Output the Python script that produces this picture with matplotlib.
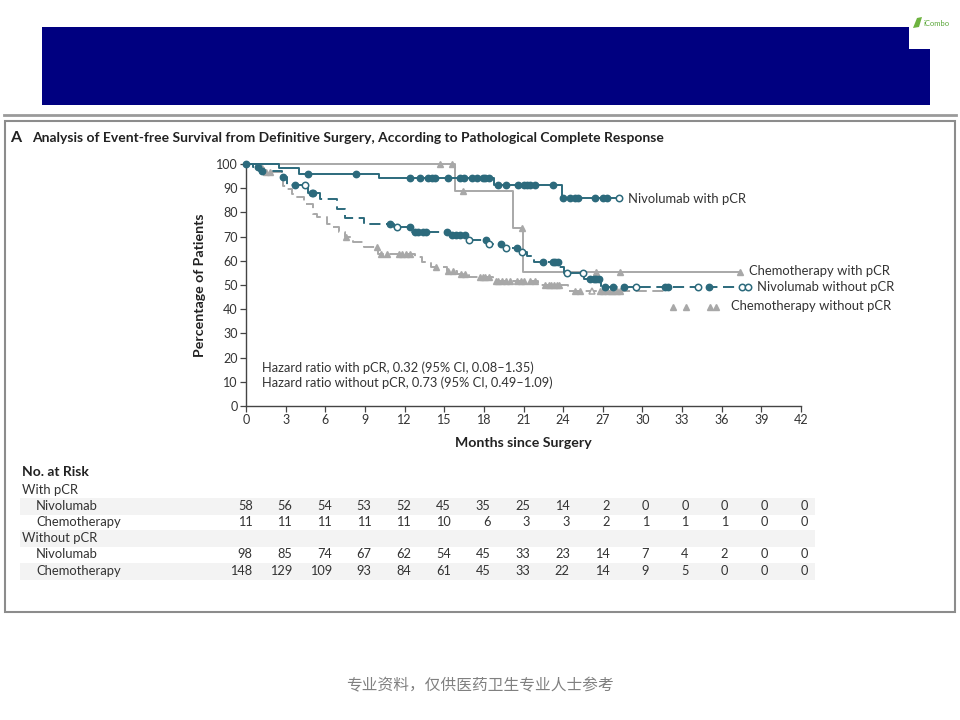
import numpy as np
import matplotlib
matplotlib.use("Agg")
import matplotlib.pyplot as plt
from matplotlib.patches import Rectangle, Polygon
import matplotlib.transforms as mtransforms

plt.rcParams['font.family'] = ['Lato', 'DejaVu Sans']
plt.rcParams['lines.scale_dashes'] = False

# ---------------- data ----------------
months_ticks = list(range(0, 43, 3))
pct_ticks = list(range(0, 101, 10))

# Nivolumab with pCR (solid teal)
niv_pcr_t = [0, 2.5, 4.0, 10.1, 18.8, 23.9, 28.2]
niv_pcr_s = [100, 98.3, 96.0, 94.1, 91.3, 86.0, 86.0]
niv_pcr_cens = [4.7, 8.3, 12.4, 13.2, 13.8, 14.1, 14.3, 15.3, 16.2, 16.5, 17.1, 17.5,
                17.9, 18.1, 18.4, 19.1, 19.7, 20.6, 21.0, 21.3, 21.5, 21.9, 23.2,
                24.0, 24.5, 24.9, 25.1, 26.4, 27.0, 27.3]
niv_pcr_open = [28.2]

# Chemotherapy with pCR (solid gray)
chemo_pcr_t = [0, 15.8, 20.2, 20.95, 37.4]
chemo_pcr_s = [100, 89.0, 73.4, 55.3, 55.3]
chemo_pcr_cens = [14.7, 15.6, 16.4, 20.9, 26.5, 28.3, 37.4]
chemo_pcr_open = []

# Nivolumab without pCR (dashed teal)
niv_nopcr_t = [0, 0.5, 1.0, 2.7, 3.1, 4.7, 5.6, 6.9, 7.5, 8.9, 11.2, 12.6, 15.3, 16.8,
               18.3, 19.5, 20.7, 21.3, 21.8, 23.7, 24.1, 25.6, 26.9, 38.0]
niv_nopcr_s = [100, 98.6, 97.0, 94.5, 91.5, 88.2, 85.5, 81.3, 77.6, 75.3, 73.9, 71.9,
               70.5, 68.6, 66.8, 65.4, 63.6, 62.0, 59.5, 57.5, 55.0, 52.5, 49.0, 49.0]
niv_nopcr_cens = [0.9, 1.2, 2.8, 3.7, 5.0, 5.1, 10.9, 12.4, 12.8, 13.0, 13.4, 13.6,
                  15.2, 15.6, 15.9, 16.2, 16.6, 18.2, 19.3, 20.5, 22.5, 23.2, 23.4,
                  23.6, 26.0, 26.3, 26.5, 26.7, 27.2, 27.8, 28.6, 31.7, 31.9, 35.0]
niv_nopcr_open = [4.5, 11.4, 16.9, 18.4, 19.7, 20.9, 24.3, 25.5, 29.5, 34.2, 37.5, 38.0]

# Chemotherapy without pCR (dashed gray)
chemo_nopcr_t = [0, 0.8, 1.4, 2.8, 3.0, 3.5, 3.8, 4.4, 5.1, 5.4, 6.1, 6.5, 7.0, 7.5,
                 8.1, 8.9, 10.0, 12.8, 13.3, 14.0, 15.2, 16.0, 16.9, 18.7, 22.1, 24.4,
                 30.8, 31.8, 35.8]
chemo_nopcr_s = [100, 98.5, 96.7, 91.0, 89.5, 87.4, 86.3, 83.3, 79.2, 78.0, 75.1, 73.9,
                 71.8, 69.7, 67.6, 65.7, 63.0, 61.4, 59.3, 57.5, 55.7, 54.4, 53.2, 51.8,
                 50.2, 47.7, 47.7, np.nan, 41.0]
chemo_nopcr_cens = [1.2, 1.5, 1.8, 7.6, 9.9, 10.2, 10.7, 11.6, 11.8, 12.1, 12.4, 14.4,
                    15.3, 15.7, 16.3, 16.6, 17.7, 17.9, 18.1, 18.4, 18.9, 19.1, 19.4,
                    19.7, 20.0, 20.5, 20.8, 21.0, 21.5, 21.9, 22.6, 22.9, 23.1, 23.3,
                    23.5, 23.7, 24.9, 25.3, 26.8, 27.0, 27.3, 27.6, 27.8, 28.1, 28.3,
                    32.3, 33.3, 35.1, 35.6]
chemo_nopcr_open = [26.2]

risk_groups = ["With pCR", "Without pCR"]
risk_arms = ["Nivolumab", "Chemotherapy"]
risk_niv_pcr = [58, 56, 54, 53, 52, 45, 35, 25, 14, 2, 0, 0, 0, 0, 0]
risk_chemo_pcr = [11, 11, 11, 11, 11, 10, 6, 3, 3, 2, 1, 1, 1, 0, 0]
risk_niv_nopcr = [98, 85, 74, 67, 62, 54, 45, 33, 23, 14, 7, 4, 2, 0, 0]
risk_chemo_nopcr = [148, 129, 109, 93, 84, 61, 45, 33, 22, 14, 9, 5, 0, 0, 0]

title = "Analysis of Event-free Survival from Definitive Surgery, According to Pathological Complete Response"
hr_lines = ["Hazard ratio with pCR, 0.32 (95% CI, 0.08\u20131.35)",
            "Hazard ratio without pCR, 0.73 (95% CI, 0.49\u20131.09)"]
footer = "专业资料，仅供医药卫生专业人士参考"

# ---------------- styling ----------------
W, H = 960, 720
TEAL = "#2C6A7C"
GRAY = "#A8A8A8"
TXT = "#333333"

fig = plt.figure(figsize=(9.6, 7.2), dpi=100)
fig.patch.set_facecolor("white")


def fx(x):
    return x / W


def fy(y):
    return 1 - y / H


# navy banner
fig.patches.append(Polygon([(fx(42), fy(27)), (fx(909), fy(27)), (fx(909), fy(49)),
                            (fx(930), fy(49)), (fx(930), fy(105)), (fx(42), fy(105))],
                           closed=True, transform=fig.transFigure, facecolor="#000080",
                           edgecolor="none"))
fig.text(fx(924), fy(23), "iCombo", fontsize=5.5, color="#5BA83A", ha="left", va="center")
fig.patches.append(Polygon([(fx(913), fy(28)), (fx(917), fy(18)), (fx(922), fy(17)), (fx(919), fy(27))],
                           closed=True, transform=fig.transFigure, facecolor="#6DB33F",
                           edgecolor="none"))

# separator line and frame
fig.add_artist(plt.Line2D([fx(4), fx(956)], [fy(115), fy(115)], transform=fig.transFigure,
                          color="#9A9A9A", lw=2))
fig.patches.append(Rectangle((fx(5), fy(612)), fx(950), (612 - 121) / H,
                             transform=fig.transFigure, facecolor="none",
                             edgecolor="#8C8C8C", lw=1.5))

fig.text(fx(10), fy(138), "A", fontsize=11.5, fontweight="bold", color="#222222",
         ha="left", va="center")
fig.text(fx(32), fy(138), title, fontsize=10, fontweight="bold", color="#222222",
         ha="left", va="center")

# ---------------- axes ----------------
ax = fig.add_axes([fx(246), fy(406), 555 / W, 242 / H])
ax.set_xlim(0, 42)
ax.set_ylim(0, 100)
for s in ["top", "right"]:
    ax.spines[s].set_visible(False)
for s in ["left", "bottom"]:
    ax.spines[s].set_color("#444444")
    ax.spines[s].set_linewidth(1.0)
ax.set_xticks(months_ticks)
ax.set_yticks(pct_ticks)
ax.tick_params(direction="out", length=4, width=0.9, color="#444444",
               labelsize=9, labelcolor=TXT, pad=2)
ax.set_xlabel("Months since Surgery", fontsize=10.2, fontweight="bold", color="#222222",
              labelpad=8)
ax.set_ylabel("Percentage of Patients", fontsize=10.2, fontweight="bold", color="#222222",
              labelpad=7)


def step_val(t, s, x):
    t = np.asarray(t)
    s = np.asarray(s, dtype=float)
    idx = np.searchsorted(t, x, side="right") - 1
    out = []
    for i in idx:
        j = i
        while np.isnan(s[j]):
            j += 1
        out.append(s[j])
    return np.array(out)


def draw_curve(t, s, cens, opens, color, marker, ms, dashes=None, lw=1.4):
    line, = ax.plot(t, s, drawstyle="steps-post", color=color, lw=lw, clip_on=False,
                    zorder=3)
    if dashes is not None:
        line.set_dashes(dashes)
    if cens:
        ax.plot(cens, step_val(t, s, cens), linestyle="none", marker=marker, ms=ms,
                mfc=color, mec=color, mew=1.0, clip_on=False, zorder=4)
    if opens:
        ax.plot(opens, step_val(t, s, opens), linestyle="none", marker=marker, ms=ms,
                mfc="white", mec=color, mew=1.1, clip_on=False, zorder=4)


draw_curve(chemo_nopcr_t, chemo_nopcr_s, chemo_nopcr_cens, chemo_nopcr_open, GRAY, "^", 4.8,
           dashes=(8, 4))
draw_curve(chemo_pcr_t, chemo_pcr_s, chemo_pcr_cens, chemo_pcr_open, GRAY, "^", 4.8)
draw_curve(niv_nopcr_t, niv_nopcr_s, niv_nopcr_cens, niv_nopcr_open, TEAL, "o", 4.6,
           dashes=(8, 4))
draw_curve(niv_pcr_t, niv_pcr_s, niv_pcr_cens, niv_pcr_open, TEAL, "o", 4.6)
ax.plot([0], [100], marker="o", ms=4.6, color=TEAL, clip_on=False, zorder=5)

lab_kw = dict(fontsize=9.4, color=TXT, va="center", ha="left", clip_on=False)
ax.text(28.9, 85.5, "Nivolumab with pCR", **lab_kw)
ax.text(38.1, 55.8, "Chemotherapy with pCR", **lab_kw)
ax.text(38.7, 49.2, "Nivolumab without pCR", **lab_kw)
ax.text(36.7, 41.3, "Chemotherapy without pCR", **lab_kw)

ax.text(1.2, 15.7, hr_lines[0], fontsize=9.3, color=TXT, va="center", ha="left")
ax.text(1.2, 9.5, hr_lines[1], fontsize=9.3, color=TXT, va="center", ha="left")

# ---------------- risk table ----------------
bt = mtransforms.blended_transform_factory(ax.transData, fig.transFigure)
for yb in [506, 538, 571]:
    fig.patches.append(Rectangle((fx(20), fy(yb + 8.5)), fx(795), 16.5 / H,
                                 transform=fig.transFigure, facecolor="#F3F3F3",
                                 edgecolor="none", zorder=0))

fig.text(fx(22), fy(472), "No. at Risk", fontsize=10, fontweight="bold", color="#222222",
         va="center", ha="left")
rows = [(490, risk_groups[0], None, 22),
        (506, risk_arms[0], risk_niv_pcr, 36),
        (522, risk_arms[1], risk_chemo_pcr, 36),
        (538, risk_groups[1], None, 22),
        (554, risk_arms[0], risk_niv_nopcr, 36),
        (571, risk_arms[1], risk_chemo_nopcr, 36)]
for yp, label, vals, xp in rows:
    fig.text(fx(xp), fy(yp), label, fontsize=9.4, color=TXT, va="center", ha="left")
    if vals is not None:
        for m, v in zip(months_ticks, vals):
            fig.text(m + 0.5, fy(yp), str(v), transform=bt, fontsize=9.2, color=TXT,
                     va="center", ha="right")

fig.text(0.5, fy(686), footer, fontsize=11.3, color="#808080", ha="center", va="center",
         family=["Noto Sans CJK SC", "DejaVu Sans"])

fig.savefig("out.png", dpi=100, facecolor="white")
